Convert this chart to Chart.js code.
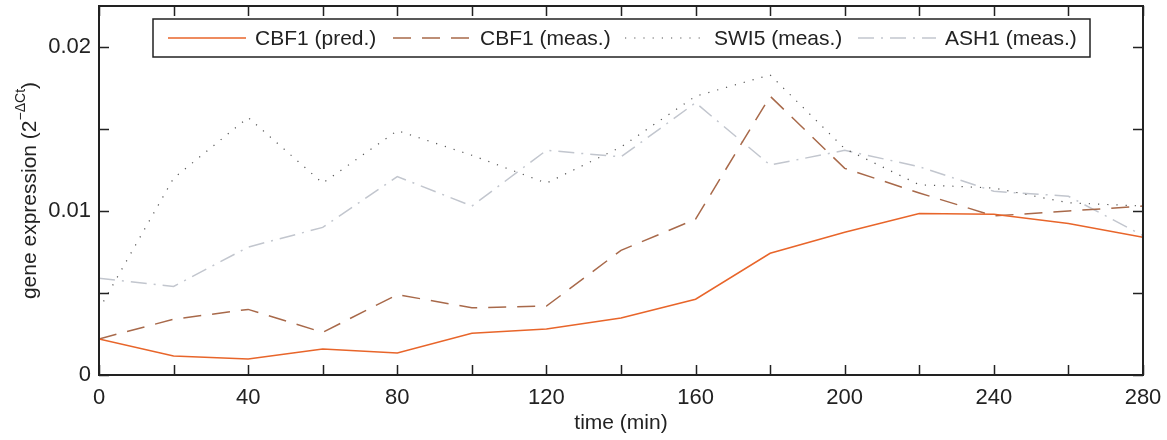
<!DOCTYPE html>
<html>
<head>
<meta charset="utf-8">
<script src="https://cdn.jsdelivr.net/npm/chart.js@4"></script>
<style>
  html, body { margin: 0; padding: 0; background: #fff; }
  #wrap { width: 1167px; height: 440px; }
</style>
</head>
<body>
<div id="wrap"><canvas id="geneChart" width="1167" height="440"></canvas></div>
<script>
// time points (min)
const times = [0, 20, 40, 60, 80, 100, 120, 140, 160, 180, 200, 220, 240, 260, 280];

const cbf1Pred = [0.0022, 0.00116, 0.00097, 0.00158, 0.00134, 0.00255, 0.0028, 0.00347, 0.00462, 0.00742, 0.0087, 0.00985, 0.0098, 0.00924, 0.0084];
const cbf1Meas = [0.0022, 0.0034, 0.0040, 0.0026, 0.0049, 0.0041, 0.0042, 0.0076, 0.0095, 0.0170, 0.0126, 0.0111, 0.0097, 0.0100, 0.0103];
const swi5Meas = [0.0040, 0.0120, 0.0157, 0.0117, 0.0149, 0.0134, 0.0117, 0.0139, 0.0170, 0.0183, 0.0138, 0.0116, 0.0114, 0.0105, 0.0103];
const ash1Meas = [0.0059, 0.0054, 0.0078, 0.0090, 0.0121, 0.0103, 0.0137, 0.0133, 0.0166, 0.0128, 0.0137, 0.0127, 0.0112, 0.0109, 0.0085];

const xTickLabels = [0, 40, 80, 120, 160, 200, 240, 280];
const xMinorTicks = [0, 20, 40, 60, 80, 100, 120, 140, 160, 180, 200, 220, 240, 260, 280];
const yTickLabels = [0, 0.01, 0.02];
const yMinorTicks = [0, 0.005, 0.01, 0.015, 0.02];

const FONT = "'Liberation Sans', Arial, sans-serif";

function pts(vals) {
  return times.map((t, i) => ({ x: t, y: vals[i] }));
}

// box, inward ticks, legend and y title (with superscript)
const framePlugin = {
  id: "frame",
  afterDraw(chart) {
    const { ctx, chartArea: a, scales } = chart;
    const xs = scales.x, ys = scales.y;
    ctx.save();
    ctx.strokeStyle = "#222";
    ctx.lineWidth = 2;
    ctx.strokeRect(a.left, a.top, a.right - a.left, a.bottom - a.top);

    ctx.lineWidth = 1.5;
    ctx.beginPath();
    xMinorTicks.forEach(v => {
      const px = Math.round(xs.getPixelForValue(v)) + 0.5;
      ctx.moveTo(px, a.bottom); ctx.lineTo(px, a.bottom - 10);
      ctx.moveTo(px, a.top); ctx.lineTo(px, a.top + 10);
    });
    yMinorTicks.forEach(v => {
      const py = Math.round(ys.getPixelForValue(v)) + 0.5;
      ctx.moveTo(a.left, py); ctx.lineTo(a.left + 10, py);
      ctx.moveTo(a.right, py); ctx.lineTo(a.right - 10, py);
    });
    ctx.stroke();

    // y title
    ctx.fillStyle = "#222";
    ctx.translate(30, (a.top + a.bottom) / 2);
    ctx.rotate(-Math.PI / 2);
    const main = "gene expression (2";
    const sup = "\u2212\u0394Ct";
    ctx.font = "21px " + FONT;
    const w1 = ctx.measureText(main).width;
    ctx.font = "14px " + FONT;
    const w2 = ctx.measureText(sup).width;
    ctx.font = "21px " + FONT;
    const w3 = ctx.measureText(")").width;
    let x0 = -(w1 + w2 + w3) / 2;
    ctx.textBaseline = "middle";
    ctx.textAlign = "left";
    ctx.fillText(main, x0, 0);
    ctx.font = "14px " + FONT;
    ctx.fillText(sup, x0 + w1, -9);
    ctx.font = "21px " + FONT;
    ctx.fillText(")", x0 + w1 + w2, 0);
    ctx.restore();

    // legend box
    ctx.save();
    const lx = 153, ly = 19, lw = 937, lh = 38;
    ctx.fillStyle = "#fff";
    ctx.fillRect(lx, ly, lw, lh);
    ctx.strokeStyle = "#222";
    ctx.lineWidth = 1.5;
    ctx.strokeRect(lx, ly, lw, lh);
    const cy = ly + lh / 2;
    const items = [
      { ds: 0, x1: 168, x2: 246, tx: 255 },
      { ds: 1, x1: 393, x2: 472, tx: 480 },
      { ds: 2, x1: 625, x2: 703, tx: 714 },
      { ds: 3, x1: 858, x2: 936, tx: 945 }
    ];
    ctx.font = "21px " + FONT;
    ctx.textBaseline = "middle";
    items.forEach(it => {
      const d = chart.data.datasets[it.ds];
      ctx.strokeStyle = d.borderColor;
      ctx.lineWidth = d.borderWidth;
      ctx.setLineDash(d.borderDash || []);
      ctx.beginPath();
      ctx.moveTo(it.x1, cy); ctx.lineTo(it.x2, cy);
      ctx.stroke();
      ctx.setLineDash([]);
      ctx.fillStyle = "#222";
      ctx.fillText(d.label, it.tx, cy + 1);
    });
    ctx.restore();
  }
};

new Chart(document.getElementById("geneChart"), {
  type: "line",
  data: {
    datasets: [
      { label: "CBF1 (pred.)", data: pts(cbf1Pred), borderColor: "#E8652A", borderWidth: 1.5, borderDash: [] },
      { label: "CBF1 (meas.)", data: pts(cbf1Meas), borderColor: "#A8694A", borderWidth: 1.5, borderDash: [18, 11] },
      { label: "SWI5 (meas.)", data: pts(swi5Meas), borderColor: "#555555", borderWidth: 1.2, borderDash: [1.2, 8] },
      { label: "ASH1 (meas.)", data: pts(ash1Meas), borderColor: "#C2C6CE", borderWidth: 1.5, borderDash: [16, 7, 2, 7] }
    ]
  },
  options: {
    responsive: false,
    animation: false,
    events: [],
    layout: { padding: { top: 6, right: 24, left: 0, bottom: 0 } },
    elements: { point: { radius: 0 }, line: { tension: 0 } },
    plugins: { legend: { display: false }, tooltip: { enabled: false } },
    scales: {
      x: {
        type: "linear",
        min: 0,
        max: 280,
        grid: { display: false, drawTicks: false },
        border: { display: false },
        afterBuildTicks(s) { s.ticks = xTickLabels.map(v => ({ value: v })); },
        afterFit(s) { s.height = 65; s.paddingLeft = 0; s.paddingRight = 0; },
        ticks: {
          color: "#222",
          font: { family: FONT, size: 22 },
          padding: 10,
          maxRotation: 0,
          callback: v => String(v)
        },
        title: {
          display: true,
          text: "time (min)",
          color: "#222",
          font: { family: FONT, size: 21 },
          padding: { top: 0 }
        }
      },
      y: {
        type: "linear",
        min: 0,
        max: 0.0225,
        grid: { display: false, drawTicks: false },
        border: { display: false },
        afterBuildTicks(s) { s.ticks = yTickLabels.map(v => ({ value: v })); },
        afterFit(s) { s.width = 99; s.paddingTop = 0; s.paddingBottom = 0; },
        ticks: {
          color: "#222",
          font: { family: FONT, size: 22 },
          padding: 8,
          callback: v => String(v)
        }
      }
    }
  },
  plugins: [framePlugin]
});
</script>
</body>
</html>
